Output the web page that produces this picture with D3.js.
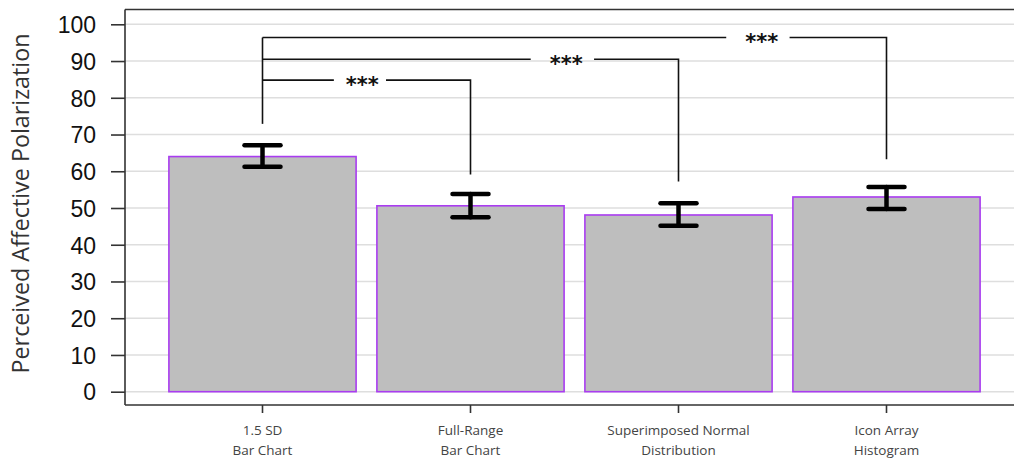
<!DOCTYPE html>
<html>
<head>
<meta charset="utf-8">
<script src="https://cdn.jsdelivr.net/npm/d3@7"></script>
<style>
  html, body { margin: 0; padding: 0; background: #fff; }
  svg { display: block; }
</style>
</head>
<body>
<svg id="chart" width="1014" height="460"></svg>
<script>
// ---- data ----
const categories = [["1.5 SD", "Bar Chart"], ["Full-Range", "Bar Chart"], ["Superimposed Normal", "Distribution"], ["Icon Array", "Histogram"]];
const means = [64, 50.6, 48.1, 53.0];
const errLow = [61.2, 47.5, 45.2, 49.7];
const errHigh = [67.1, 53.8, 51.3, 55.7];
const yTicks = [0, 10, 20, 30, 40, 50, 60, 70, 80, 90, 100];
const yLabel = "Perceived Affective Polarization";
// significance brackets: compared category index vs reference (0)
const sigTarget = [1, 2, 3];
const sigLevel = [84.8, 90.5, 96.4];
const sigLegEnd = [59.1, 57.2, 63.3];
const sigRefLegEnd = 72.9;
const sigLabel = ["***", "***", "***"];
const sigLabelPos = [0.48, 1.46, 2.40]; // in category-index units

(function () {
// ---- layout ----
const svg = d3.select("#chart");
const mLeft = 125, mRight = 1014, mTop = 9.5, mBottom = 405;

const x = d3.scaleBand().domain(d3.range(categories.length))
  .range([158.5, 990.5]).paddingInner(0.1).paddingOuter(0.05);
const y = d3.scaleLinear().domain([0, 100]).range([391.7, 24.3]);
const cx = i => x(i) + x.bandwidth() / 2;
const xi = t => cx(0) + t * x.step();

// gridlines
svg.append("g").selectAll("line").data(yTicks).join("line")
  .attr("x1", mLeft).attr("x2", mRight)
  .attr("y1", d => y(d)).attr("y2", d => y(d))
  .attr("stroke", "#dedede").attr("stroke-width", 1.5);

// bars
svg.append("g").selectAll("rect").data(means).join("rect")
  .attr("x", (d, i) => x(i)).attr("width", x.bandwidth())
  .attr("y", d => y(d)).attr("height", d => y(0) - y(d))
  .attr("fill", "#bebebe").attr("stroke", "#a93cf0").attr("stroke-width", 1.6);

// error bars
const eb = svg.append("g").attr("stroke", "#000").attr("stroke-width", 4.5).attr("stroke-linecap", "round");
means.forEach((m, i) => {
  eb.append("line").attr("x1", cx(i)).attr("x2", cx(i)).attr("y1", y(errLow[i])).attr("y2", y(errHigh[i]));
  eb.append("line").attr("x1", cx(i) - 18).attr("x2", cx(i) + 18).attr("y1", y(errLow[i])).attr("y2", y(errLow[i]));
  eb.append("line").attr("x1", cx(i) - 18).attr("x2", cx(i) + 18).attr("y1", y(errHigh[i])).attr("y2", y(errHigh[i]));
});

// y axis
const yAxis = d3.axisLeft(y).tickValues(yTicks).tickSize(14).tickPadding(15).tickSizeOuter(0);
const gy = svg.append("g").attr("transform", `translate(${mLeft},0)`).call(yAxis);
gy.select(".domain").remove();
gy.selectAll(".tick line").attr("stroke", "#333").attr("stroke-width", 1.6);
gy.selectAll(".tick text").attr("fill", "#111").attr("dy", "0.36em")
  .style("font-family", "'Liberation Sans', Arial, sans-serif").style("font-size", "23px");

// x axis
const xAxis = d3.axisBottom(x).tickSize(8).tickSizeOuter(0).tickFormat("");
const gx = svg.append("g").attr("transform", `translate(0,${mBottom})`).call(xAxis);
gx.select(".domain").remove();
gx.selectAll(".tick line").attr("stroke", "#333").attr("stroke-width", 1.6);
gx.selectAll(".tick").each(function (d) {
  const t = d3.select(this).append("text").attr("fill", "#444").attr("text-anchor", "middle")
    .style("font-family", "'Open Sans', sans-serif").style("font-size", "13.5px");
  categories[d].forEach((line, k) => {
    t.append("tspan").attr("x", 0).attr("y", 30 + k * 19.5).text(line);
  });
});

// frame
const frame = svg.append("g").attr("stroke", "#333").attr("stroke-width", 1.6).attr("fill", "none");
frame.append("line").attr("x1", mLeft).attr("x2", mLeft).attr("y1", mTop).attr("y2", mBottom);
frame.append("line").attr("x1", mLeft).attr("x2", mRight).attr("y1", mTop).attr("y2", mTop);
frame.append("line").attr("x1", mLeft).attr("x2", mRight).attr("y1", mBottom).attr("y2", mBottom);

// y label
svg.append("text").attr("transform", `translate(29,${(372 + 35) / 2}) rotate(-90)`)
  .attr("text-anchor", "middle").attr("fill", "#333")
  .style("font-family", "'Open Sans', sans-serif").style("font-size", "23.3px")
  .text(yLabel);

// significance brackets
const sg = svg.append("g");
const gapPad = [12, 19, 19];
sg.append("line").attr("x1", cx(0)).attr("x2", cx(0))
  .attr("y1", y(d3.max(sigLevel))).attr("y2", y(sigRefLegEnd))
  .attr("stroke", "#111").attr("stroke-width", 1.6);
sigTarget.forEach((t, k) => {
  const yy = y(sigLevel[k]);
  const lx = xi(sigLabelPos[k]);
  const txt = sg.append("text").attr("x", lx).attr("y", yy + 11.5).attr("text-anchor", "middle")
    .attr("fill", "#111").style("font-family", "'DejaVu Sans', sans-serif")
    .style("font-size", "21px").style("font-weight", "bold").text(sigLabel[k]);
  const w = txt.node().getComputedTextLength();
  sg.append("path")
    .attr("d", `M${cx(0)},${yy}H${lx - w / 2 - gapPad[k]}M${lx + w / 2 + gapPad[k] * 0.6},${yy}H${cx(t)}V${y(sigLegEnd[k])}`)
    .attr("fill", "none").attr("stroke", "#111").attr("stroke-width", 1.6);
});
})();
</script>
</body>
</html>
